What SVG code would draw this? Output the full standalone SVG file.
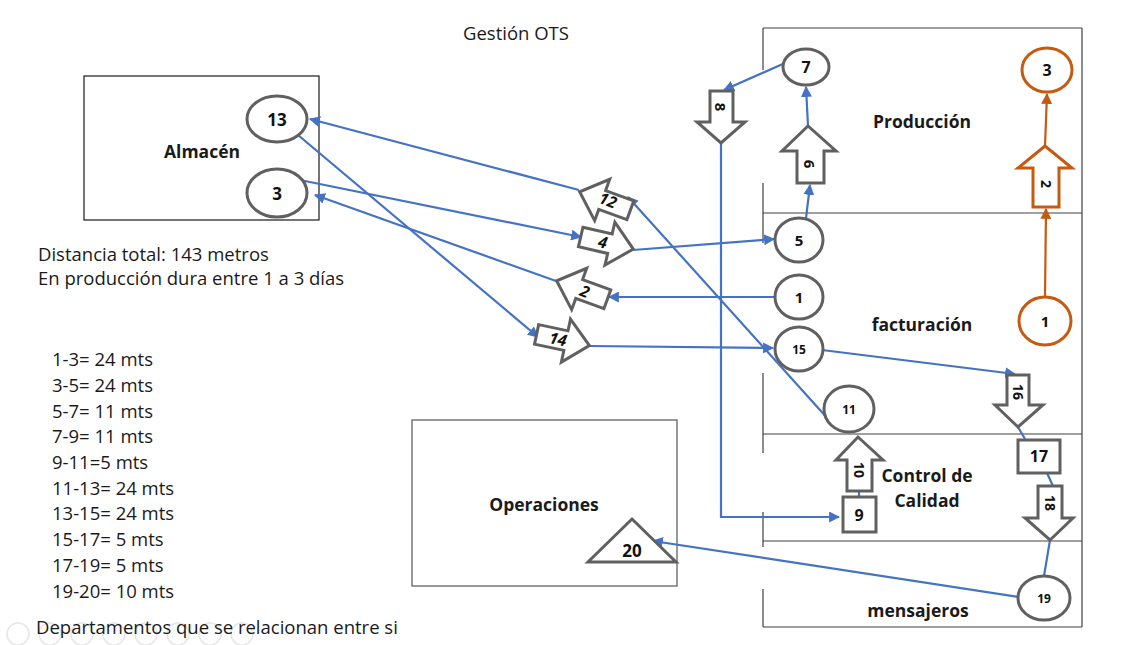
<svg xmlns="http://www.w3.org/2000/svg" width="1142" height="645" viewBox="0 0 1142 645">
<defs>
<style>
.t{font-family:"Open Sans","Liberation Sans",Arial,sans-serif;fill:#1a1a1a}
.b{font-weight:bold}
.box{fill:none;stroke:#1a1a1a;stroke-width:1.2}
.ln{stroke:#404040;stroke-width:1.2}
.sh{fill:#fff;stroke:#606060;stroke-width:3}
.osh{fill:#fff;stroke:#C55A11;stroke-width:3}
.c{fill:none;stroke:#4472C4;stroke-width:2.2}
.oc{fill:none;stroke:#C55A11;stroke-width:2.2}
.lbl{font-family:"Open Sans","Liberation Sans",Arial,sans-serif;font-weight:bold;fill:#111;text-anchor:middle;dominant-baseline:central}
.ic{fill:none;stroke:#e6e6e6;stroke-width:1.5}
</style>
<marker id="ab" viewBox="0 0 10 10" refX="9" refY="5" markerWidth="5" markerHeight="5" orient="auto-start-reverse"><path d="M0,0 L10,5 L0,10 z" fill="#4472C4"/></marker>
<marker id="ao" viewBox="0 0 10 10" refX="9" refY="5" markerWidth="5" markerHeight="5" orient="auto-start-reverse"><path d="M0,0 L10,5 L0,10 z" fill="#C55A11"/></marker>
<polygon id="rarrow" points="-27,-10 3,-10 3,-22 27,0 3,22 3,10 -27,10"/>
</defs>

<rect width="1142" height="645" fill="#fff"/>

<!-- faded player icons -->
<g id="icons">
<circle class="ic" cx="18" cy="634" r="11"/><circle class="ic" cx="50" cy="634" r="11"/><circle class="ic" cx="82" cy="634" r="11"/><circle class="ic" cx="114" cy="634" r="11"/><circle class="ic" cx="146" cy="634" r="11"/><circle class="ic" cx="178" cy="634" r="11"/><circle class="ic" cx="210" cy="634" r="11"/><circle class="ic" cx="242" cy="634" r="11"/>
</g>

<text class="t" x="516" y="40" font-size="18.5" text-anchor="middle">Gestión OTS</text>

<!-- departments -->
<g id="almacen">
<rect class="box" x="84" y="76" width="235" height="144"/>
<text class="t b" x="202" y="158" font-size="17.5" text-anchor="middle">Almacén</text>
</g>
<g id="operaciones">
<rect x="412" y="420" width="265" height="166" fill="none" stroke="#555" stroke-width="1.2"/>
<text class="t b" x="544" y="511" font-size="17.5" text-anchor="middle">Operaciones</text>
</g>
<g id="right-column">
<line class="ln" x1="763" y1="28" x2="1082" y2="28"/>
<line class="ln" x1="1082" y1="28" x2="1082" y2="627"/>
<line class="ln" x1="763" y1="213" x2="1082" y2="213"/>
<line class="ln" x1="763" y1="434" x2="1082" y2="434"/>
<line class="ln" x1="763" y1="541" x2="1082" y2="541"/>
<line class="ln" x1="763" y1="627" x2="1082" y2="627"/>
<line class="ln" x1="763" y1="28" x2="763" y2="70"/>
<line class="ln" x1="763" y1="183" x2="763" y2="243"/>
<line class="ln" x1="763" y1="373" x2="763" y2="453"/>
<line class="ln" x1="763" y1="512" x2="763" y2="547"/>
<line class="ln" x1="763" y1="589" x2="763" y2="627"/>
<text class="t b" x="922" y="128" font-size="17.5" text-anchor="middle">Producción</text>
<text class="t b" x="922" y="331" font-size="17.5" text-anchor="middle">facturación</text>
<text class="t b" x="927" y="482" font-size="17.5" text-anchor="middle">Control de</text>
<text class="t b" x="927" y="507" font-size="17.5" text-anchor="middle">Calidad</text>
<text class="t b" x="918" y="617" font-size="17.5" text-anchor="middle">mensajeros</text>
</g>

<!-- notes -->
<g id="notes" class="t" font-size="18.5">
<text x="38" y="261">Distancia total: 143 metros</text>
<text x="38" y="285">En producción dura entre 1 a 3 días</text>
<text x="52" y="366">1-3= 24 mts</text>
<text x="52" y="392">3-5= 24 mts</text>
<text x="52" y="418">5-7= 11 mts</text>
<text x="52" y="443">7-9= 11 mts</text>
<text x="52" y="469">9-11=5 mts</text>
<text x="52" y="495">11-13= 24 mts</text>
<text x="52" y="520">13-15= 24 mts</text>
<text x="52" y="546">15-17= 5 mts</text>
<text x="52" y="572">17-19= 5 mts</text>
<text x="52" y="598">19-20= 10 mts</text>
<text x="36" y="634">Departamentos que se relacionan entre si</text>
</g>

<!-- connectors -->
<g id="connectors">
<line class="c" x1="775" y1="297" x2="609" y2="297" marker-end="url(#ab)"/>
<line class="c" x1="556" y1="281" x2="315" y2="195" marker-end="url(#ab)"/>
<line class="c" x1="300" y1="180" x2="581" y2="237" marker-end="url(#ab)"/>
<line class="c" x1="633" y1="250" x2="774" y2="239" marker-end="url(#ab)"/>
<line class="c" x1="806" y1="218" x2="810" y2="185" marker-end="url(#ab)"/>
<line class="c" x1="808" y1="126" x2="806" y2="87" marker-end="url(#ab)"/>
<line class="c" x1="785" y1="63" x2="724" y2="90" marker-end="url(#ab)"/>
<polyline class="c" points="721,143 721,517 839,517" marker-end="url(#ab)"/>
<line class="c" x1="859" y1="497" x2="859" y2="491"/>
<line class="c" x1="838" y1="430" x2="628" y2="197" marker-end="url(#ab)"/>
<line class="c" x1="579" y1="190" x2="310" y2="119" marker-end="url(#ab)"/>
<line class="c" x1="298" y1="135" x2="538" y2="337" marker-end="url(#ab)"/>
<line class="c" x1="590" y1="346" x2="773" y2="348" marker-end="url(#ab)"/>
<line class="c" x1="822" y1="350" x2="1015" y2="374" marker-end="url(#ab)"/>
<line class="c" x1="1018" y1="427" x2="1025" y2="439"/>
<line class="c" x1="1047" y1="473" x2="1053" y2="486"/>
<line class="c" x1="1050" y1="540" x2="1044" y2="576"/>
<line class="c" x1="1019" y1="597" x2="653" y2="541" marker-end="url(#ab)"/>
<line class="oc" x1="1045" y1="297" x2="1046" y2="209" marker-end="url(#ao)"/>
<line class="oc" x1="1045" y1="146" x2="1047" y2="94" marker-end="url(#ao)"/>
</g>

<!-- circle nodes -->
<g id="n13"><ellipse class="sh" cx="277" cy="119" rx="30" ry="23"/><text class="lbl" x="277" y="119" font-size="17">13</text></g>
<g id="n3"><ellipse class="sh" cx="277" cy="193" rx="30" ry="24"/><text class="lbl" x="277" y="193" font-size="17">3</text></g>
<g id="n7"><ellipse class="sh" cx="806" cy="67" rx="23" ry="18"/><text class="lbl" x="806" y="67" font-size="16">7</text></g>
<g id="n5"><ellipse class="sh" cx="799" cy="240" rx="24" ry="22"/><text class="lbl" x="799" y="240" font-size="15">5</text></g>
<g id="n1"><ellipse class="sh" cx="799" cy="297" rx="24" ry="22"/><text class="lbl" x="799" y="297" font-size="15">1</text></g>
<g id="n15"><ellipse class="sh" cx="799" cy="349" rx="24" ry="22"/><text class="lbl" x="799" y="349" font-size="12">15</text></g>
<g id="n11"><ellipse class="sh" cx="849" cy="409" rx="25" ry="23"/><text class="lbl" x="849" y="409" font-size="12">11</text></g>
<g id="n19"><ellipse class="sh" cx="1044" cy="598" rx="26" ry="22"/><text class="lbl" x="1044" y="598" font-size="12">19</text></g>
<g id="o3"><ellipse class="osh" cx="1047" cy="70" rx="25" ry="22"/><text class="lbl" x="1047" y="70" font-size="16">3</text></g>
<g id="o1"><ellipse class="osh" cx="1045" cy="321" rx="26" ry="24"/><text class="lbl" x="1045" y="321" font-size="15">1</text></g>

<!-- square nodes -->
<g id="n17"><rect class="sh" x="1018" y="440" width="42" height="33"/><text class="lbl" x="1039" y="456" font-size="16">17</text></g>
<g id="n9"><rect class="sh" x="843" y="497" width="33" height="35"/><text class="lbl" x="859" y="515" font-size="16">9</text></g>

<!-- triangle -->
<g id="n20"><polygon class="sh" points="632,519 676,562 588,562"/><text class="lbl" x="632" y="550" font-size="17">20</text></g>

<!-- vertical block arrows -->
<g id="a8"><polygon class="sh" points="710,91 733,91 733,122 745,122 721,143 697,122 710,122"/><text class="lbl" x="721" y="107" font-size="15" transform="rotate(90 721 107)">8</text></g>
<g id="a6"><polygon class="sh" points="797,183 824,183 824,151 836,151 808,126 782,151 797,151"/><text class="lbl" x="810" y="164" font-size="15" transform="rotate(90 810 164)">6</text></g>
<g id="a10"><polygon class="sh" points="847,491 872,491 872,460 883,460 858,437 836,460 847,460"/><text class="lbl" x="859" y="470" font-size="14" transform="rotate(90 859 470)">10</text></g>
<g id="a16"><polygon class="sh" points="1007,375 1029,375 1029,405 1043,405 1018,427 995,405 1007,405"/><text class="lbl" x="1018" y="392" font-size="14" transform="rotate(90 1018 392)">16</text></g>
<g id="a18"><polygon class="sh" points="1038,486 1062,486 1062,518 1073,518 1050,540 1025,518 1038,518"/><text class="lbl" x="1050" y="503" font-size="14" transform="rotate(90 1050 503)">18</text></g>
<g id="oa2"><polygon class="osh" points="1033,207 1059,207 1059,168 1072,168 1045,146 1018,168 1033,168"/><text class="lbl" x="1046" y="184" font-size="14" transform="rotate(90 1046 184)">2</text></g>

<!-- tilted block arrows -->
<g id="a12"><use href="#rarrow" class="sh" transform="translate(605,201) rotate(200)"/><text class="lbl" x="608" y="200" font-size="16" font-style="italic" transform="rotate(20 608 200)">12</text></g>
<g id="a4"><use href="#rarrow" class="sh" transform="translate(607,243) rotate(13)"/><text class="lbl" x="603" y="242" font-size="16" font-style="italic" transform="rotate(13 603 242)">4</text></g>
<g id="a2"><use href="#rarrow" class="sh" transform="translate(582,290) rotate(200)"/><text class="lbl" x="585" y="291" font-size="16" font-style="italic" transform="rotate(20 585 291)">2</text></g>
<g id="a14"><use href="#rarrow" class="sh" transform="translate(563,340) rotate(12)"/><text class="lbl" x="558" y="339" font-size="16" font-style="italic" transform="rotate(12 558 339)">14</text></g>
</svg>
